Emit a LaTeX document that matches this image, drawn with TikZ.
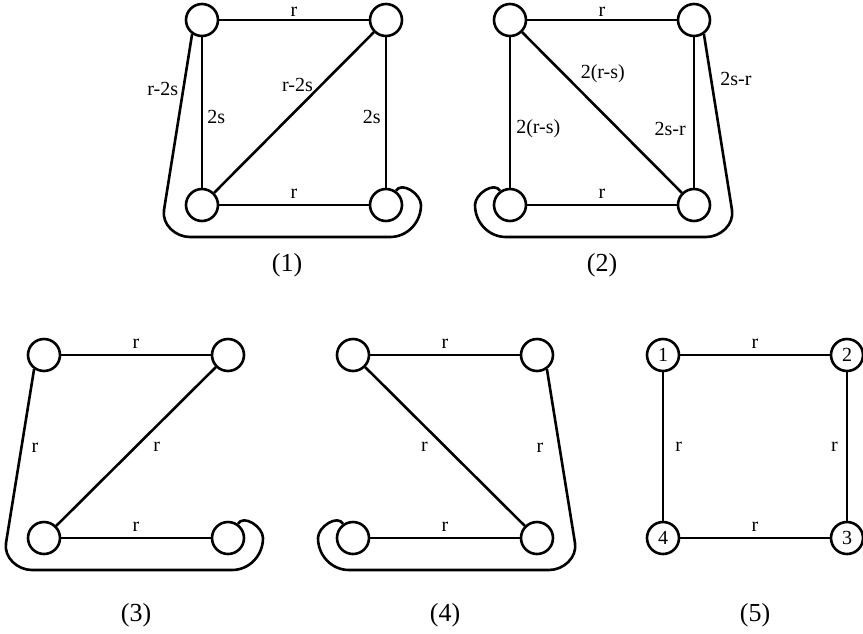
\documentclass[tikz,border=0pt]{standalone}
\usepackage{fontspec}
\setmainfont{Liberation Serif}
\begin{document}
\begin{tikzpicture}[x=1pt,y=1pt,line width=2.6pt,
        vertice/.style={circle,draw,minimum size=32pt,inner sep=0pt,font=\fontsize{20}{22}\selectfont},
        peso/.style={inner sep=3pt,font=\fontsize{20}{22}\selectfont},
        titolo/.style={font=\fontsize{26}{28}\selectfont}]
    \useasboundingbox (0,0) rectangle (863,-633);
    % grafo (1)
    \begin{scope}[shift={(202,-20)}]
        \node [vertice] (a1) at (0,0) {};\node [vertice] (b1) at (184,0) {};
        \node [vertice] (c1) at (184,-185) {};\node [vertice] (d1) at (0,-185) {};
        \draw (a1) -- node [peso,above=0pt,inner sep=2pt] {r} (b1);\draw (d1) -- node [peso,above=2pt] {r} (c1);
        \draw (a1) -- node [peso,right=1pt,pos=0.53] {2s} (d1);\draw (b1) -- node [peso,left=1pt,pos=0.53] {2s} (c1);
        \draw (d1) -- node [peso,left=4pt,pos=0.67] {r-2s} (b1);
        % anello esterno
        \draw (a1.235) -- node [peso,left=1pt,pos=0.31] {r-2s} (-38,-190) to [out=-99,in=180] (-12,-217)
            -- (188,-217) to [out=0,in=-90] (219,-185) to [out=90,in=60] (c1.55);
        \node [titolo] (t1) at (85,-245) {(1)};
    \end{scope}
    % grafo (2)
    \begin{scope}[shift={(510,-20)}]
        \node [vertice] (a2) at (0,0) {};\node [vertice] (b2) at (184,0) {};
        \node [vertice] (c2) at (184,-185) {};\node [vertice] (d2) at (0,-185) {};
        \draw (a2) -- node [peso,above=0pt,inner sep=2pt] {r} (b2);\draw (d2) -- node [peso,above=2pt] {r} (c2);
        \draw (a2) -- node [peso,right=2pt,pos=0.61] {2(r-s)} (d2);\draw (b2) -- node [peso,left=4pt,pos=0.61] {2s-r} (c2);
        \draw (a2) -- node [peso,above right,pos=0.34] {2(r-s)} (c2);
        % anello esterno
        \draw (b2.-55) -- node [peso,right=5pt,pos=0.254] {2s-r} (222,-190) to [out=-81,in=0] (196,-217)
            -- (-4,-217) to [out=180,in=-90] (-35,-185) to [out=90,in=120] (d2.125);
        \node [titolo] (t2) at (92,-245) {(2)};
    \end{scope}
    % grafo (3)
    \begin{scope}[shift={(44,-355)}]
        \node [vertice] (a3) at (0,0) {};\node [vertice] (b3) at (184,0) {};
        \node [vertice] (c3) at (184,-183) {};\node [vertice] (d3) at (0,-183) {};
        \draw (a3) -- node [peso,above=2pt] {r} (b3);\draw (d3) -- node [peso,above=2pt] {r} (c3);
        \draw (d3) -- node [peso,right=13pt,pos=0.5] {r} (b3);
        % anello esterno
        \draw (a3.235) -- node [peso,right=6pt,pos=0.45] {r} (-38,-188) to [out=-99,in=180] (-12,-215)
            -- (188,-215) to [out=0,in=-90] (219,-183) to [out=90,in=60] (c3.55);
        \node [titolo] (t3) at (92,-260) {(3)};
    \end{scope}
    % grafo (4)
    \begin{scope}[shift={(353,-355)}]
        \node [vertice] (a4) at (0,0) {};\node [vertice] (b4) at (184,0) {};
        \node [vertice] (c4) at (184,-183) {};\node [vertice] (d4) at (0,-183) {};
        \draw (a4) -- node [peso,above=2pt] {r} (b4);\draw (d4) -- node [peso,above=2pt] {r} (c4);
        \draw (a4) -- node [peso,left=13pt,pos=0.5] {r} (c4);
        % anello esterno
        \draw (b4.-55) -- node [peso,left=12pt,pos=0.45] {r} (222,-188) to [out=-81,in=0] (196,-215)
            -- (-4,-215) to [out=180,in=-90] (-35,-183) to [out=90,in=120] (d4.125);
        \node [titolo] (t4) at (92,-260) {(4)};
    \end{scope}
    % grafo (5)
    \begin{scope}[shift={(663,-355)}]
        \node [vertice] (a5) at (0,0) {1};\node [vertice] (b5) at (184,0) {2};
        \node [vertice] (c5) at (184,-183) {3};\node [vertice] (d5) at (0,-183) {4};
        \draw (a5) -- node [peso,above=2pt] {r} (b5);\draw (d5) -- node [peso,above=2pt] {r} (c5);
        \draw (a5) -- node [peso,right=8pt] {r} (d5);\draw (b5) -- node [peso,left=5pt] {r} (c5);
        \node [titolo] (t5) at (92,-260) {(5)};
    \end{scope}
\end{tikzpicture}
\end{document}
